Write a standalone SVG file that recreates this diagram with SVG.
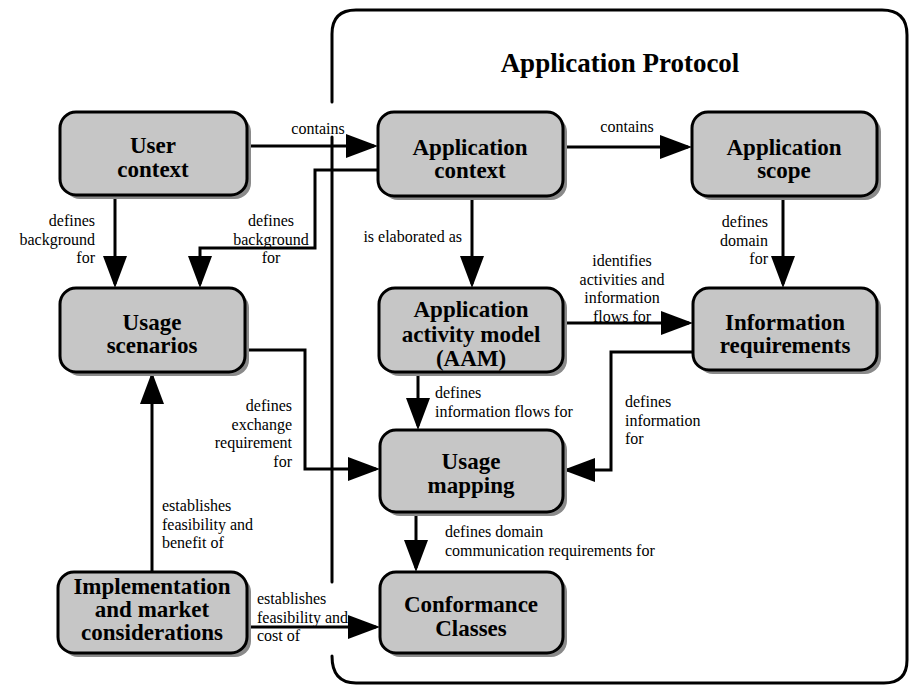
<svg xmlns="http://www.w3.org/2000/svg" width="911" height="688" viewBox="0 0 911 688">
  <style>
    .frame { fill: none; stroke: #000; stroke-width: 3; stroke-linecap: round; stroke-linejoin: round; }
    .box { fill: #c6c6c6; stroke: #000; stroke-width: 3; }
    .shadow { fill: #8a8a8a; }
    .name { font-family: "Liberation Serif", "Times New Roman", serif; font-weight: bold; font-size: 23px; text-anchor: middle; fill: #000; }
    .title { font-family: "Liberation Serif", "Times New Roman", serif; font-weight: bold; font-size: 27px; text-anchor: middle; fill: #000; }
    .lbl { font-family: "Liberation Serif", "Times New Roman", serif; font-size: 16px; fill: #000; }
    .end { text-anchor: end; }
    .mid { text-anchor: middle; }
    .edge { fill: none; stroke: #000; stroke-width: 3; marker-end: url(#head); }
  </style>
  <defs>
    <marker id="head" markerUnits="userSpaceOnUse" markerWidth="32" markerHeight="24" refX="28" refY="12" orient="auto">
      <path d="M0,0 L32,12 L0,24 z" fill="#000"/>
    </marker>
  </defs>

  <rect width="911" height="688" fill="#fff"/>

  <!-- Application Protocol boundary (left side broken where labels cross) -->
  <g id="application-protocol">
    <path class="frame" d="M332,102 V34 Q332,10 356,10 H882 Q907,10 907,35 V660 Q907,683 884,683 H356 Q332,683 332,656"/>
    <path class="frame" d="M332,137 V582"/>
    <text class="title" x="620" y="72">Application Protocol</text>
  </g>

  <!-- connectors -->
  <g id="connectors">
    <path class="edge" d="M247,146 H374"/>
    <path class="edge" d="M378,170 H315 V248 H200 V284"/>
    <path class="edge" d="M115,195 V284"/>
    <path class="edge" d="M563,147 H688"/>
    <path class="edge" d="M472,196 V284"/>
    <path class="edge" d="M783,196 V284"/>
    <path class="edge" d="M563,323 H689"/>
    <path class="edge" d="M693,352 H611 V470 H567"/>
    <path class="edge" d="M418,372 V426"/>
    <path class="edge" d="M245,350 H305 V469 H376"/>
    <path class="edge" d="M152,572 V376"/>
    <path class="edge" d="M416,512 V568"/>
    <path class="edge" d="M247,627 H376"/>

    <text class="lbl mid" x="318" y="134">contains</text>
    <text class="lbl end" x="95" y="226">defines</text>
    <text class="lbl end" x="95" y="244.5">background</text>
    <text class="lbl end" x="95" y="263">for</text>
    <text class="lbl mid" x="271" y="226">defines</text>
    <text class="lbl mid" x="271" y="244.5">background</text>
    <text class="lbl mid" x="271" y="263">for</text>
    <text class="lbl end" x="462" y="242">is elaborated as</text>
    <text class="lbl mid" x="627" y="132">contains</text>
    <text class="lbl end" x="768" y="227">defines</text>
    <text class="lbl end" x="768" y="245.5">domain</text>
    <text class="lbl end" x="768" y="264">for</text>
    <text class="lbl mid" x="622" y="266">identifies</text>
    <text class="lbl mid" x="622" y="284.5">activities and</text>
    <text class="lbl mid" x="622" y="303">information</text>
    <text class="lbl mid" x="622" y="321.5">flows for</text>
    <text class="lbl" x="625" y="407">defines</text>
    <text class="lbl" x="625" y="425.5">information</text>
    <text class="lbl" x="625" y="444">for</text>
    <text class="lbl" x="435" y="398">defines</text>
    <text class="lbl" x="435" y="416.5">information flows for</text>
    <text class="lbl end" x="292" y="411">defines</text>
    <text class="lbl end" x="292" y="429.5">exchange</text>
    <text class="lbl end" x="292" y="448">requirement</text>
    <text class="lbl end" x="292" y="466.5">for</text>
    <text class="lbl" x="162" y="511">establishes</text>
    <text class="lbl" x="162" y="529.5">feasibility and</text>
    <text class="lbl" x="162" y="548">benefit of</text>
    <text class="lbl" x="445" y="537">defines domain</text>
    <text class="lbl" x="445" y="555.5">communication requirements for</text>
    <text class="lbl" x="257" y="604">establishes</text>
    <text class="lbl" x="257" y="622.5">feasibility and</text>
    <text class="lbl" x="257" y="641">cost of</text>
  </g>

  <!-- nodes -->
  <g id="user-context">
    <rect class="shadow" x="64" y="116" width="187" height="83" rx="16"/>
    <rect class="box" x="60" y="112" width="187" height="83" rx="16"/>
    <text class="name" x="153" y="153">User</text>
    <text class="name" x="153" y="177">context</text>
  </g>
  <g id="application-context">
    <rect class="shadow" x="382" y="116" width="185" height="84" rx="16"/>
    <rect class="box" x="378" y="112" width="185" height="84" rx="16"/>
    <text class="name" x="470" y="155">Application</text>
    <text class="name" x="470" y="178">context</text>
  </g>
  <g id="application-scope">
    <rect class="shadow" x="696" y="116" width="185" height="84" rx="16"/>
    <rect class="box" x="692" y="112" width="185" height="84" rx="16"/>
    <text class="name" x="784" y="155">Application</text>
    <text class="name" x="784" y="178">scope</text>
  </g>
  <g id="usage-scenarios">
    <rect class="shadow" x="64" y="292" width="185" height="84" rx="16"/>
    <rect class="box" x="60" y="288" width="185" height="84" rx="16"/>
    <text class="name" x="152" y="330">Usage</text>
    <text class="name" x="152" y="353">scenarios</text>
  </g>
  <g id="application-activity-model">
    <rect class="shadow" x="383" y="292" width="184" height="84" rx="16"/>
    <rect class="box" x="379" y="288" width="184" height="84" rx="16"/>
    <text class="name" x="471" y="317">Application</text>
    <text class="name" x="471" y="342">activity model</text>
    <text class="name" x="471" y="366">(AAM)</text>
  </g>
  <g id="information-requirements">
    <rect class="shadow" x="697" y="292" width="184" height="82" rx="16"/>
    <rect class="box" x="693" y="288" width="184" height="82" rx="16"/>
    <text class="name" x="785" y="330">Information</text>
    <text class="name" x="785" y="353">requirements</text>
  </g>
  <g id="usage-mapping">
    <rect class="shadow" x="384" y="434" width="183" height="82" rx="16"/>
    <rect class="box" x="380" y="430" width="183" height="82" rx="16"/>
    <text class="name" x="471" y="469">Usage</text>
    <text class="name" x="471" y="493">mapping</text>
  </g>
  <g id="conformance-classes">
    <rect class="shadow" x="384" y="576" width="183" height="81" rx="16"/>
    <rect class="box" x="380" y="572" width="183" height="81" rx="16"/>
    <text class="name" x="471" y="612">Conformance</text>
    <text class="name" x="471" y="636">Classes</text>
  </g>
  <g id="implementation-market">
    <rect class="shadow" x="62" y="576" width="189" height="81" rx="16"/>
    <rect class="box" x="58" y="572" width="189" height="81" rx="16"/>
    <text class="name" x="152" y="594">Implementation</text>
    <text class="name" x="152" y="617">and market</text>
    <text class="name" x="152" y="640">considerations</text>
  </g>
</svg>
